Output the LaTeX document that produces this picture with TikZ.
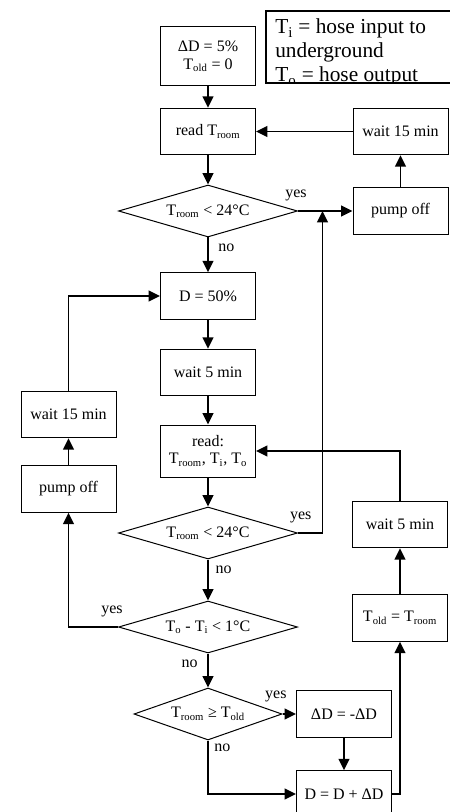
\documentclass[tikz,border=0pt]{standalone}
\usepackage{fontspec}
\setmainfont{Liberation Serif}
\usetikzlibrary{arrows.meta,shapes.geometric,calc}
\newcommand{\Tsub}[1]{T\textsubscript{#1}}
\tikzset{
	flowbox/.style={draw, line width=0.75pt, minimum width=71.25pt, minimum height=35pt, inner sep=1pt, align=center, font=\fontsize{12}{13}\selectfont},
	decision/.style={draw, diamond, line width=0.75pt, minimum width=134.25pt, minimum height=39pt, aspect=3.4, inner sep=0.5pt, font=\fontsize{12}{13}\selectfont},
	flow/.style={line width=1.4pt, -{Triangle[length=8.5pt,width=8pt]}},
	answer/.style={font=\fontsize{12}{13}\selectfont, inner sep=2pt}
}

\begin{document}
\begin{tikzpicture}[x=0.75pt, y=-0.75pt]
		%%%%% START %%%%%
		\useasboundingbox (0,0) rectangle (449,812);
		
		% legend, cut off at its lower edge
		\begin{scope}
			\clip (266,11) rectangle (455,83);
			\node[anchor=north west, inner sep=0pt, align=left, font=\fontsize{16}{18}\selectfont] (legend) at (275,18.5) {\Tsub{i} = hose input to\\underground\\\Tsub{o} = hose output};
		\end{scope}
		\draw[line width=1.5pt] (455,11) -- (266,11) -- (266,83) -- (455,83);
		
		\node[flowbox, minimum height=44.25pt] (init) at (208,56.5) {ΔD = 5\%\\\Tsub{old} = 0};
		\node[flowbox] (read1) at (208,131.5) {read \Tsub{room}};
		\node[flowbox] (wait1) at (400.5,131.5) {wait 15 min};
		\node[decision] (test1) at (208,211) {\Tsub{room} < 24°C};
		\node[flowbox] (pump1) at (400.5,211) {pump off};
		
		\node[flowbox] (duty) at (208,296) {D = 50\%};
		\node[flowbox] (wait2) at (208,372.5) {wait 5 min};
		\node[flowbox, minimum height=39pt] (read2) at (208,451) {read:\\\Tsub{room}, \Tsub{i}, \Tsub{o}};
		\node[flowbox] (wait3) at (68.5,414.5) {wait 15 min};
		\node[flowbox] (pump2) at (68.5,489) {pump off};
		\node[decision] (test2) at (208,533) {\Tsub{room} < 24°C};
		\node[flowbox] (wait4) at (400,524.5) {wait 5 min};
		
		\node[flowbox] (store) at (400,618) {\Tsub{old} = \Tsub{room}};
		\node[decision] (test3) at (208,627) {\Tsub{o} - \Tsub{i} < 1°C};
		\node[decision, minimum width=111pt, aspect=2.85] (test4) at (208,714) {\Tsub{room} ≥ \Tsub{old}};
		\node[flowbox] (flip) at (344,714) {ΔD = -ΔD};
		\node[flowbox] (update) at (344,794) {D = D + ΔD};
		
		\coordinate (merge) at ($(test1.east)!0.45!(pump1.west)$);
		
		\draw[flow] (init) -- (read1);
		\draw[flow] (read1) -- (test1);
		\draw[flow] (test1.east) node[answer, above=4.5pt, xshift=-1.5pt] {yes} -- (pump1.west);
		\draw[flow] (pump1) -- (wait1);
		\draw[flow] (wait1) -- (read1);
		\draw[flow] (test1) -- node[answer, right=5pt, pos=0.3] {no} (duty);
		\draw[flow] (duty) -- (wait2);
		\draw[flow] (wait2) -- (read2);
		\draw[flow] (read2) -- (test2);
		\draw[flow] (test2.east) node[answer, above=4.5pt, xshift=2pt] {yes} -| (merge);
		\draw[flow] (test2) -- node[answer, right=3pt, pos=0.24] {no} (test3);
		\draw[flow] (test3.west) node[answer, above=4.5pt, xshift=-4.5pt] {yes} -| (pump2);
		\draw[flow] (pump2) -- (wait3);
		\draw[flow] (wait3) |- (duty);
		\draw[flow] (test3) -- node[answer, left=5pt, pos=0.29] {no} (test4);
		\draw[flow] (test4.east) node[answer, above=6.5pt, xshift=-5pt] {yes} -- (flip);
		\draw[flow] (test4.south) node[answer, below right, xshift=2pt] {no} |- (update);
		\draw[flow] (flip) -- (update);
		\draw[flow] (update) -| (store);
		\draw[flow] (store) -- (wait4);
		\draw[flow] (wait4) |- (read2);
		%%%%% END %%%%%
\end{tikzpicture}
\end{document}
